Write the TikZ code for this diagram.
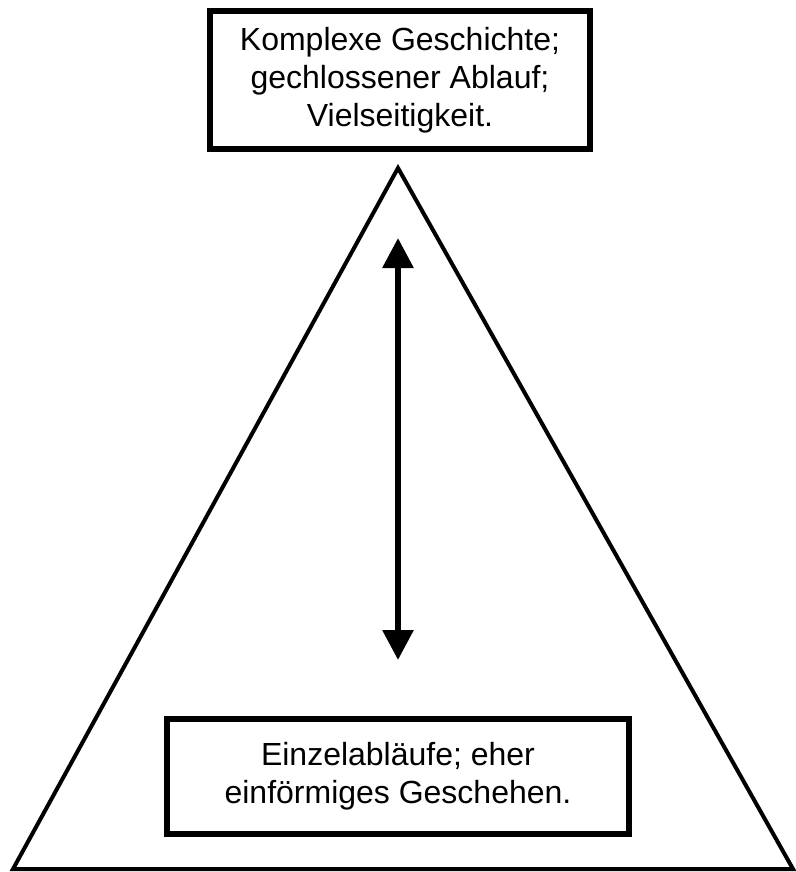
\documentclass[tikz,border=0pt]{standalone}
\usepackage{fontspec}
\setmainfont{Liberation Sans}
\usetikzlibrary{arrows.meta}
\tikzstyle{textbox} = [rectangle, draw=black, line width=4.5pt, fill=white, align=center, font=\fontsize{24}{28.5}\selectfont, inner sep=0pt]
\tikzstyle{pyramid} = [line width=3pt, line join=miter]
\tikzstyle{arrow} = [line width=4.5pt, {Triangle[length=22.5pt,width=22.5pt]}-{Triangle[length=22.5pt,width=22.5pt]}]

\begin{document}
\begin{tikzpicture}[x=0.75pt, y=-0.75pt]
\useasboundingbox (0,0) rectangle (796,872);

\coordinate (apex) at (398,168);
\coordinate (baseL) at (13,869);
\coordinate (baseR) at (793,869);
\draw [pyramid] (apex) -- (baseL) -- (baseR) -- cycle;

\node (top) [textbox, minimum width=285pt, minimum height=103.5pt] at (400,80) {Komplexe Geschichte;\\ gechlossener Ablauf;\\ Vielseitigkeit.};
\node (bottom) [textbox, minimum width=346.5pt, minimum height=86.25pt] at (398,776.5) {Einzelabläufe; eher\\ einförmiges Geschehen.};

\coordinate (up) at (398,238);
\coordinate (down) at (398,660);
\draw [arrow] (up) -- (down);

\end{tikzpicture}
\end{document}
